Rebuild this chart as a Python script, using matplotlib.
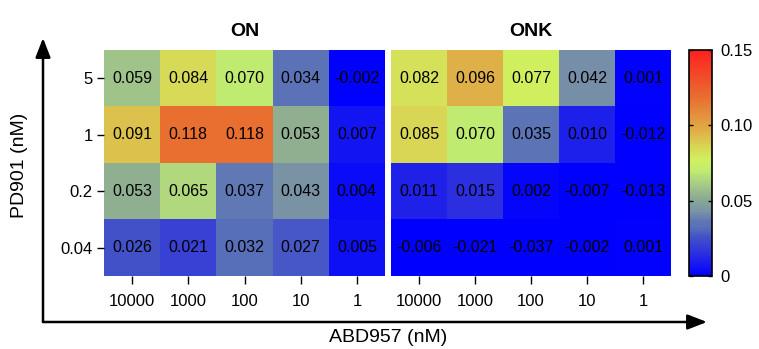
import numpy as np
import matplotlib
matplotlib.use("Agg")
import matplotlib.pyplot as plt
from matplotlib.colors import LinearSegmentedColormap, Normalize
from matplotlib.cm import ScalarMappable
from matplotlib.patches import FancyArrowPatch

plt.rcParams['font.family'] = ['Liberation Sans', 'DejaVu Sans']

# Data (rows top to bottom: PD901 = 5, 1, 0.2, 0.04)
abd_labels = ["10000", "1000", "100", "10", "1"]
pd_labels = ["5", "1", "0.2", "0.04"]
on_vals = [
    [0.059, 0.084, 0.070, 0.034, -0.002],
    [0.091, 0.118, 0.118, 0.053, 0.007],
    [0.053, 0.065, 0.037, 0.043, 0.004],
    [0.026, 0.021, 0.032, 0.027, 0.005],
]
onk_vals = [
    [0.082, 0.096, 0.077, 0.042, 0.001],
    [0.085, 0.070, 0.035, 0.010, -0.012],
    [0.011, 0.015, 0.002, -0.007, -0.013],
    [-0.006, -0.021, -0.037, -0.002, 0.001],
]
panel_titles = ["ON", "ONK"]

# Colour map: blue -> grey-green -> yellow-green -> orange -> red
vmax = 0.15
nodes = [
    (0.000, "#0000ff"),
    (0.015, "#2c30e0"),
    (0.026, "#4452c8"),
    (0.032, "#5870b8"),
    (0.037, "#6078b4"),
    (0.042, "#7890a8"),
    (0.047, "#80a09c"),
    (0.053, "#90b090"),
    (0.060, "#a4c888"),
    (0.070, "#c0ec70"),
    (0.077, "#d0f060"),
    (0.085, "#d8d855"),
    (0.096, "#e0b048"),
    (0.118, "#e87030"),
    (0.150, "#ff2020"),
]
cmap = LinearSegmentedColormap.from_list("heat", [(v / vmax, c) for v, c in nodes])
norm = Normalize(vmin=0, vmax=vmax, clip=True)

W, H = 759, 349
fig = plt.figure(figsize=(W / 100, H / 100), dpi=100)

def fx(px):
    return px / W

def fy(py):
    return 1 - py / H

top, bottom = 50, 276
panels = [(104, 385), (391, 671)]

for k, (vals, title) in enumerate(zip([on_vals, onk_vals], panel_titles)):
    x0, x1 = panels[k]
    ax = fig.add_axes([fx(x0), fy(bottom), fx(x1 - x0), (bottom - top) / H])
    arr = np.array(vals)
    ax.imshow(arr, cmap=cmap, norm=norm, aspect='auto', interpolation='nearest')
    for i in range(arr.shape[0]):
        for j in range(arr.shape[1]):
            ax.text(j, i, f"{arr[i, j]:.3f}", ha='center', va='center', fontsize=11.5, color='black')
    for s in ax.spines.values():
        s.set_visible(False)
    ax.set_xticks(range(len(abd_labels)))
    ax.set_xticklabels(abd_labels, fontsize=12)
    ax.tick_params(axis='x', length=6, width=1, pad=7)
    if k == 0:
        ax.set_yticks(range(len(pd_labels)))
        ax.set_yticklabels(pd_labels, fontsize=12)
        ax.tick_params(axis='y', length=5, width=1, pad=3)
    else:
        ax.set_yticks([])
    ax.set_title(title, fontsize=14, fontweight='bold', pad=10)

# Colour bar
cax = fig.add_axes([fx(689), fy(bottom), fx(23), (bottom - top) / H])
cb = fig.colorbar(ScalarMappable(norm=norm, cmap=cmap), cax=cax)
cb.set_ticks([0, 0.05, 0.10, 0.15])
cb.set_ticklabels(["0", "0.05", "0.10", "0.15"])
cax.tick_params(direction='in', length=3, width=1, left=True, right=True, labelsize=12, pad=6)
cb.outline.set_linewidth(1.2)

# Axis arrows
arrow = dict(arrowstyle='-|>,head_length=0.9,head_width=0.35', color='black', lw=1.8,
             shrinkA=0, shrinkB=0, mutation_scale=13)
fig.add_artist(FancyArrowPatch((fx(43), fy(322)), (fx(43), fy(38)),
                               transform=fig.transFigure, **arrow))
fig.add_artist(FancyArrowPatch((fx(43), fy(322)), (fx(707), fy(322)),
                               transform=fig.transFigure, **arrow))

fig.text(fx(388), fy(338), "ABD957 (nM)", ha='center', va='center', fontsize=14)
fig.text(fx(20), fy(165), "PD901 (nM)", ha='center', va='center', rotation=90, fontsize=14)

fig.savefig("out.png", dpi=100)
